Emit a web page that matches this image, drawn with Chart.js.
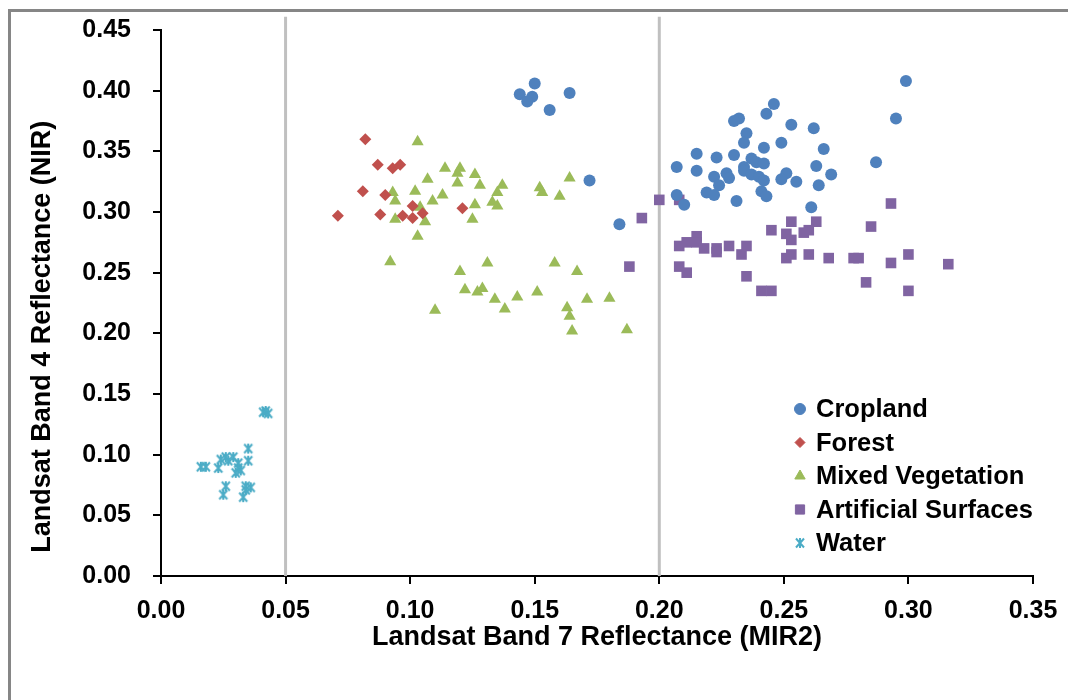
<!DOCTYPE html>
<html>
<head>
<meta charset="utf-8">
<script src="https://cdn.jsdelivr.net/npm/chart.js@4.4.0/dist/chart.umd.min.js"></script>
<style>
  html, body { margin: 0; padding: 0; background: #fff; }
  #wrap { position: relative; width: 1068px; height: 700px; }
  #frame { position: absolute; left: 8px; top: 9px; right: -10px; bottom: -10px; border-left: 3px solid #868686; border-top: 3px solid #868686; }
  canvas { position: absolute; left: 0; top: 0; }
</style>
</head>
<body>
<div id="wrap">
  <div id="frame"></div>
  <canvas id="chart" width="1068" height="700"></canvas>
</div>
<script>
// axis ticks
var xTicks = [0, 0.05, 0.10, 0.15, 0.20, 0.25, 0.30, 0.35];
var yTicks = [0, 0.05, 0.10, 0.15, 0.20, 0.25, 0.30, 0.35, 0.40, 0.45];
var refLinesX = [0.05, 0.20];

// Cropland
var croplandX = [0.150, 0.144, 0.149, 0.147, 0.156, 0.164, 0.172, 0.184,
  0.299, 0.295, 0.287, 0.246, 0.243, 0.232, 0.230, 0.253, 0.262, 0.235, 0.234, 0.249,
  0.266, 0.242, 0.215, 0.223, 0.230, 0.207, 0.215, 0.237, 0.239, 0.242, 0.234, 0.234,
  0.237, 0.263, 0.269, 0.227, 0.222, 0.228, 0.240, 0.242, 0.251, 0.249, 0.255, 0.264,
  0.224, 0.219, 0.222, 0.207, 0.231, 0.241, 0.243, 0.210, 0.261];
var croplandY = [0.406, 0.397, 0.395, 0.391, 0.384, 0.398, 0.326, 0.290,
  0.408, 0.377, 0.341, 0.389, 0.381, 0.377, 0.375, 0.372, 0.369, 0.365, 0.357, 0.357,
  0.352, 0.353, 0.348, 0.345, 0.347, 0.337, 0.334, 0.344, 0.341, 0.340, 0.337, 0.334,
  0.331, 0.338, 0.331, 0.332, 0.329, 0.328, 0.329, 0.326, 0.332, 0.327, 0.325, 0.322,
  0.322, 0.316, 0.314, 0.314, 0.309, 0.317, 0.313, 0.306, 0.304];

// Forest
var forestX = [0.082, 0.087, 0.096, 0.093, 0.081, 0.090, 0.101, 0.105, 0.071, 0.088, 0.097, 0.101, 0.121];
var forestY = [0.360, 0.339, 0.339, 0.336, 0.317, 0.314, 0.305, 0.299, 0.297, 0.298, 0.297, 0.295, 0.303];

// Mixed Vegetation
var mixedX = [0.103, 0.114, 0.120, 0.119, 0.126, 0.107, 0.119, 0.128, 0.137, 0.135,
  0.102, 0.113, 0.093, 0.094, 0.109, 0.104, 0.126, 0.133, 0.135, 0.094, 0.106, 0.125,
  0.103, 0.152, 0.153, 0.164, 0.160, 0.092, 0.131, 0.158, 0.120, 0.167, 0.122, 0.129,
  0.127, 0.134, 0.143, 0.151, 0.138, 0.110, 0.171, 0.180, 0.163, 0.164, 0.165, 0.187];
var mixedY = [0.358, 0.336, 0.336, 0.332, 0.331, 0.327, 0.324, 0.322, 0.322, 0.316,
  0.317, 0.314, 0.316, 0.309, 0.309, 0.304, 0.306, 0.308, 0.305, 0.294, 0.292, 0.294,
  0.280, 0.320, 0.316, 0.328, 0.313, 0.259, 0.258, 0.258, 0.251, 0.251, 0.236, 0.237,
  0.234, 0.228, 0.230, 0.234, 0.220, 0.219, 0.228, 0.229, 0.221, 0.214, 0.202, 0.203];

// Artificial Surfaces
var artificialX = [0.200, 0.208, 0.193, 0.188, 0.293, 0.285, 0.253, 0.263, 0.245, 0.251,
  0.260, 0.258, 0.253, 0.215, 0.215, 0.208, 0.211, 0.218, 0.223, 0.223, 0.228, 0.235,
  0.233, 0.251, 0.253, 0.260, 0.268, 0.278, 0.280, 0.293, 0.300, 0.208, 0.211, 0.235,
  0.283, 0.241, 0.245, 0.300, 0.316];
var artificialY = [0.310, 0.310, 0.295, 0.255, 0.307, 0.288, 0.292, 0.292, 0.285, 0.282,
  0.285, 0.283, 0.277, 0.280, 0.275, 0.272, 0.275, 0.270, 0.270, 0.267, 0.272, 0.272,
  0.265, 0.262, 0.265, 0.265, 0.262, 0.262, 0.262, 0.258, 0.265, 0.255, 0.250, 0.247,
  0.242, 0.235, 0.235, 0.235, 0.257];

// Water
var waterX = [0.041, 0.042, 0.043, 0.035, 0.035, 0.016, 0.018, 0.024, 0.026, 0.029,
  0.023, 0.031, 0.032, 0.030, 0.026, 0.025, 0.034, 0.034, 0.033, 0.036, 0.027, 0.031];
var waterY = [0.135, 0.136, 0.134, 0.105, 0.095, 0.090, 0.090, 0.096, 0.098, 0.098,
  0.089, 0.089, 0.087, 0.085, 0.074, 0.067, 0.074, 0.071, 0.065, 0.073, 0.095, 0.093];

function pts(xs, ys) {
  return xs.map(function (x, i) { return { x: x, y: ys[i] }; });
}

// Excel style star marker (x with a vertical bar)
function starMarker(color) {
  var c = document.createElement('canvas');
  c.width = 12; c.height = 12;
  var g = c.getContext('2d');
  g.strokeStyle = color;
  g.lineWidth = 2;
  g.beginPath();
  g.moveTo(2, 1.5); g.lineTo(10, 10.5);
  g.moveTo(10, 1.5); g.lineTo(2, 10.5);
  g.moveTo(6, 1); g.lineTo(6, 11);
  g.stroke();
  return c;
}
var waterStar = starMarker('#4BACC6');

var font = "'Liberation Sans', Arial, sans-serif";

// legend drawn inside the plot, like the original
var insideLegend = {
  id: 'insideLegend',
  afterDraw: function (chart) {
    var ctx = chart.ctx;
    var y0 = 409, step = 33.5, mx = 800, tx = 816;
    ctx.save();
    ctx.font = 'bold 25.5px ' + font;
    ctx.textBaseline = 'middle';
    chart.data.datasets.forEach(function (ds) {
      if (ds.legend === undefined) return;
      var y = y0 + step * ds.legend;
      ctx.fillStyle = ds.backgroundColor;
      ctx.strokeStyle = ds.borderColor;
      ctx.lineWidth = 1;
      if (ds.pointStyle instanceof HTMLCanvasElement) {
        ctx.drawImage(ds.pointStyle, mx - 6, y - 6);
      } else {
        Chart.helpers.drawPoint(ctx, { pointStyle: ds.pointStyle, radius: ds.legendRadius, borderWidth: 1 }, mx, y);
      }
      ctx.fillStyle = '#000';
      ctx.fillText(ds.label, tx, y + 1);
    });
    ctx.restore();
  }
};

var ctx = document.getElementById('chart');
new Chart(ctx, {
  type: 'scatter',
  data: {
    datasets: [
      { label: 'Ref 0.05', type: 'line', data: [{ x: refLinesX[0], y: 0 }, { x: refLinesX[0], y: 0.461 }],
        borderColor: '#C0C0C0', borderWidth: 3, pointRadius: 0, clip: false, order: 10 },
      { label: 'Ref 0.20', type: 'line', data: [{ x: refLinesX[1], y: 0 }, { x: refLinesX[1], y: 0.461 }],
        borderColor: '#C0C0C0', borderWidth: 3, pointRadius: 0, clip: false, order: 10 },
      { label: 'Cropland', legend: 0, legendRadius: 5.5, data: pts(croplandX, croplandY), pointStyle: 'circle',
        pointRadius: 6, backgroundColor: '#4F81BD', borderColor: '#4F81BD', borderWidth: 0 },
      { label: 'Forest', legend: 1, legendRadius: 5, data: pts(forestX, forestY), pointStyle: 'rectRot',
        pointRadius: 6, backgroundColor: '#C0504D', borderColor: '#C0504D', borderWidth: 0 },
      { label: 'Mixed Vegetation', legend: 2, legendRadius: 6, data: pts(mixedX, mixedY), pointStyle: 'triangle',
        pointRadius: 7, backgroundColor: '#9BBB59', borderColor: '#9BBB59', borderWidth: 0 },
      { label: 'Artificial Surfaces', legend: 3, legendRadius: 6.5, data: pts(artificialX, artificialY), pointStyle: 'rect',
        pointRadius: 7.5, backgroundColor: '#8064A2', borderColor: '#8064A2', borderWidth: 0 },
      { label: 'Water', legend: 4, data: pts(waterX, waterY), pointStyle: waterStar,
        pointRadius: 6, backgroundColor: '#4BACC6', borderColor: '#4BACC6', borderWidth: 0 }
    ]
  },
  options: {
    responsive: false,
    animation: false,
    layout: { padding: { left: 26, right: 35, top: 30, bottom: 46 } },
    plugins: {
      legend: { display: false },
      tooltip: { enabled: false }
    },
    scales: {
      x: {
        type: 'linear',
        min: 0, max: 0.35,
        afterBuildTicks: function (axis) { axis.ticks = xTicks.map(function (v) { return { value: v }; }); },
        afterFit: function (axis) {
          axis.height = 700 - 576 - 46;
          axis.paddingLeft = 0; axis.paddingRight = 0;
        },
        border: { display: true, color: '#000', width: 2 },
        grid: { display: true, drawOnChartArea: false, drawTicks: true, tickLength: 8, color: '#000', lineWidth: 2 },
        ticks: {
          color: '#000', padding: 12,
          font: { family: font, size: 25, weight: 'bold' },
          callback: function (v) { return v.toFixed(2); }
        },
        title: {
          display: true, text: 'Landsat Band 7 Reflectance (MIR2)', color: '#000',
          font: { family: font, size: 27, weight: 'bold' }, padding: { top: 0, bottom: 0 }
        }
      },
      y: {
        type: 'linear',
        min: 0, max: 0.45,
        afterBuildTicks: function (axis) { axis.ticks = yTicks.map(function (v) { return { value: v }; }); },
        afterFit: function (axis) {
          axis.width = 161 - 26;
          axis.paddingTop = 0; axis.paddingBottom = 0;
        },
        border: { display: true, color: '#000', width: 2 },
        grid: { display: true, drawOnChartArea: false, drawTicks: true, tickLength: 8, color: '#000', lineWidth: 2 },
        ticks: {
          color: '#000', padding: 22,
          font: { family: font, size: 25, weight: 'bold' },
          callback: function (v) { return v.toFixed(2); }
        },
        title: {
          display: true, text: 'Landsat Band 4 Reflectance (NIR)         ', color: '#000',
          font: { family: font, size: 27, weight: 'bold' }, padding: { top: 0, bottom: 0 }
        }
      }
    }
  },
  plugins: [insideLegend]
});
</script>
</body>
</html>
